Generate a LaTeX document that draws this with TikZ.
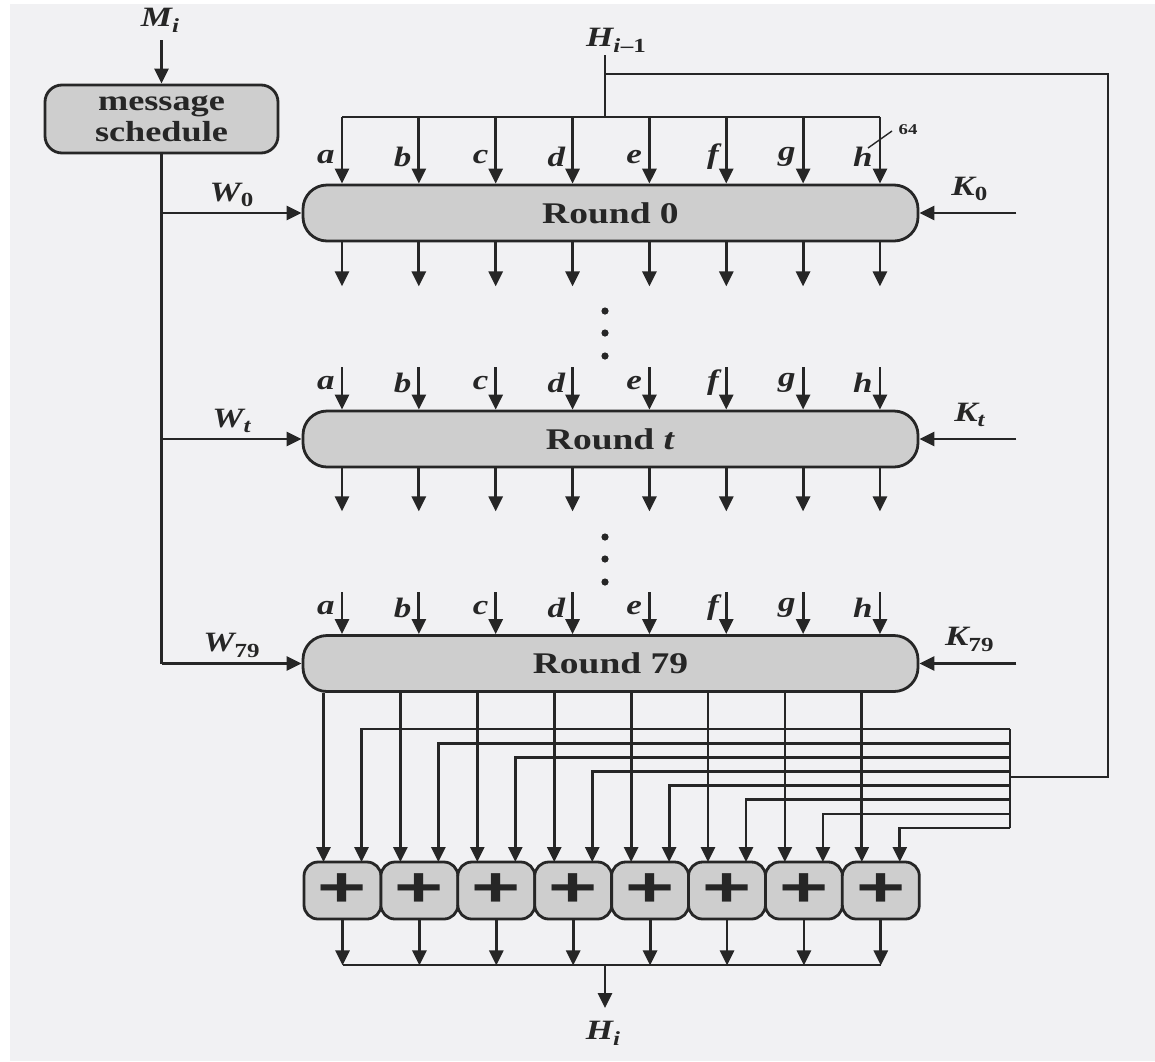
\documentclass[tikz,border=0pt]{standalone}
\usepackage{fontspec}
\setmainfont{Liberation Serif}[FakeStretch=1.25]
\setsansfont{Liberation Sans}[FakeStretch=1.5]
\usetikzlibrary{arrows.meta}
\definecolor{paper}{RGB}{241,241,243}
\definecolor{boxfill}{RGB}{206,206,206}
\definecolor{ink}{RGB}{38,38,38}
\newcommand{\sub}[2]{\textbf{\textit{#1}}\raisebox{-0.45ex}{\fontsize{20}{20}\selectfont\bfseries\upshape #2}}

\begin{document}
\begin{tikzpicture}[x=1pt,y=-1pt,line width=2.8pt,color=ink,
  >={Triangle[width=14pt,length=15pt]},
  roundbox/.style={draw,fill=boxfill,rounded corners=24pt,minimum width=615pt,minimum height=56pt,inner sep=0pt,font=\fontsize{30}{30}\selectfont\bfseries},
  msbox/.style={draw,fill=boxfill,rounded corners=17pt,minimum width=233pt,minimum height=68pt,inner sep=0pt,align=center,font=\fontsize{29}{31}\selectfont\bfseries},
  addbox/.style={draw,fill=boxfill,rounded corners=14pt,minimum width=77pt,minimum height=57pt,inner sep=0pt,font=\fontsize{56}{56}\selectfont\sffamily\bfseries},
  lab/.style={inner sep=0pt,font=\fontsize{28}{28}\selectfont\bfseries\itshape}]
  \fill[white] (0,0) rectangle (1155,1061);
  \fill[paper] (10,4) rectangle (1155,1061);
  \useasboundingbox (0,0) rectangle (1155,1061);

  \node[lab] (Mi) at (160,20) {\sub{M}{\itshape i}};
  \node[msbox] (ms) at (161.5,119) {message\\schedule};
  \coordinate (mi) at (161.5,40);
  \draw[->] (mi) -- (ms.north);

  \node[roundbox] (r0) at (610.5,213) {Round 0};
  \node[roundbox] (rt) at (610.5,439) {Round \textit{t}};
  \node[roundbox] (r79) at (610.5,663.5) {Round 79};

  % chaining value in
  \node[lab] (Hp) at (616,40) {\sub{H}{\itshape i\kern0.5pt\upshape--1}};
  \coordinate (hin) at (605,55);
  \coordinate (busL) at (342,117);
  \coordinate (busR) at (880,117);
  \draw (hin) -- (hin |- busL);
  \draw (busL) -- (busR);
  \draw (605,74) -- (1108,74) -- (1108,777) -- (1010,777);

  \foreach \c [count=\i from 0] in {a,b,c,d,e,f,g,h}{
    \pgfmathsetmacro{\x}{342+76.85*\i}
    \coordinate (top\i) at (\x,117);
    \coordinate (mid\i) at (\x,367);
    \coordinate (low\i) at (\x,592);
    \draw[->] (top\i) -- (top\i |- r0.north);
    \draw[->] (top\i |- r0.south) -- ++(0,44);
    \draw[->] (mid\i) -- (mid\i |- rt.north);
    \draw[->] (mid\i |- rt.south) -- ++(0,43);
    \draw[->] (low\i) -- (low\i |- r79.north);
    \node[lab,anchor=east] (la\i) at (\x-6,157) {\c};
    \node[lab,anchor=east] (lb\i) at (\x-6,383) {\c};
    \node[lab,anchor=east] (lc\i) at (\x-6,608) {\c};
  }
  \draw[line width=1.4pt] (868,148) -- (892,131);
  \node[inner sep=0pt,font=\fontsize{15}{15}\selectfont\bfseries] (w64) at (908,130) {64};

  \foreach \y in {311,333,356,537,559,582}{\fill (605,\y) circle (3.6pt);}

  % message words
  \draw (ms.south) -- (ms.south |- r79.west);
  \foreach \r/\w in {r0/{\sub{W}{0}},rt/{\sub{W}{\itshape t}},r79/{\sub{W}{79}}}{
    \draw[->] (ms.south |- \r.west) -- (\r.west);
    \node[lab] (w\r) at ([xshift=70pt,yshift=18pt]ms.south |- \r.west) {\w};
  }
  % round constants
  \foreach \r/\k in {r0/{\sub{K}{0}},rt/{\sub{K}{\itshape t}},r79/{\sub{K}{79}}}{
    \coordinate (k\r) at ([xshift=97pt]\r.east);
    \draw[->] (k\r) -- (\r.east);
    \node[lab] (kl\r) at ([xshift=50pt,yshift=24pt]\r.east) {\k};
  }

  % final addition
  \foreach \i in {0,...,7}{
    \pgfmathsetmacro{\x}{342.5+76.9*\i}
    \pgfmathsetmacro{\yl}{729+14.15*\i}
    \node[addbox] (s\i) at (\x,890.5) {+};
    \coordinate (p\i) at (\x-19,862);
    \coordinate (q\i) at (\x+19,862);
    \draw[->] (p\i |- r79.south) -- (p\i);
    \draw[->] (1010,\yl) -| (q\i);
    \draw[->] (s\i.south) -- ++(0,45);
  }
  \draw (1010,729) -- (1010,828.3);
  \draw (s0.south |- 0,965) -- (s7.south |- 0,965);
  \node[lab] (Hi) at (603,1033) {\sub{H}{\itshape i}};
  \coordinate (hout) at (605,1008);
  \draw[->] (605,965) -- (hout);
\end{tikzpicture}
\end{document}
